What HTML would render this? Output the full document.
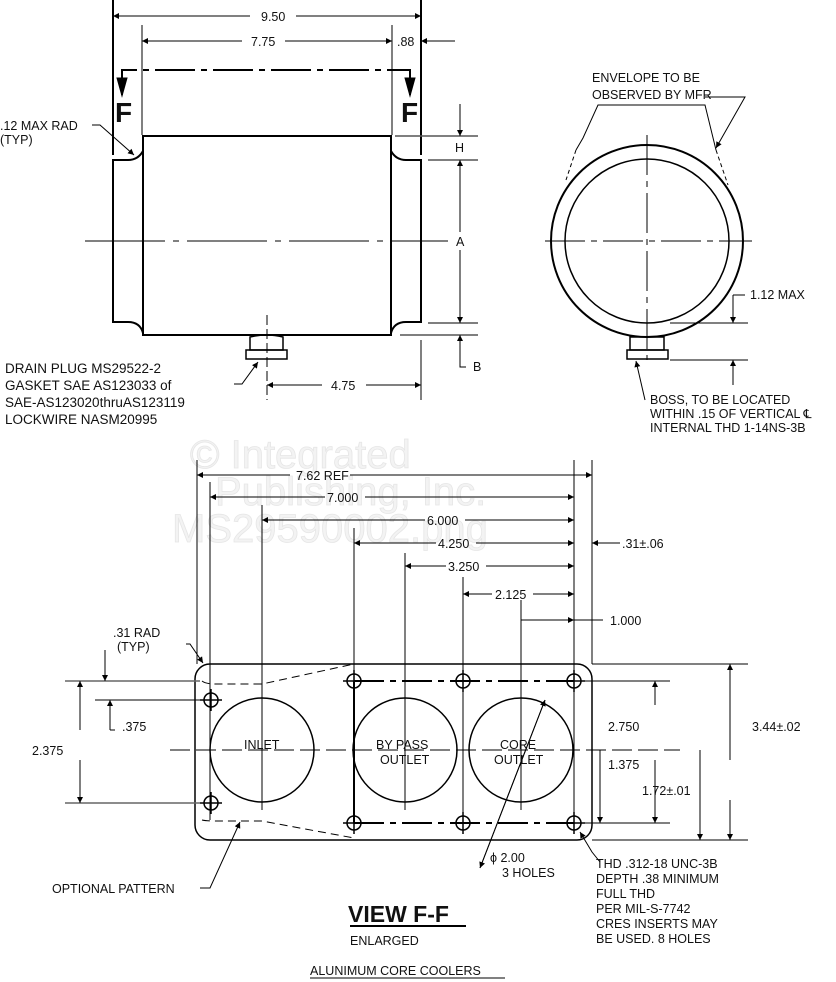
<!DOCTYPE html>
<html><head><meta charset="utf-8"><style>
html,body{margin:0;padding:0;background:#fff}
svg{display:block}
text{font-family:"Liberation Sans",sans-serif;font-size:12.5px;fill:#111}
</style></head><body>
<svg width="836" height="982" viewBox="0 0 836 982" xmlns="http://www.w3.org/2000/svg">
<defs>
<marker id="a" viewBox="0 0 10 10" refX="10" refY="5" markerWidth="12" markerHeight="6" orient="auto-start-reverse" markerUnits="userSpaceOnUse"><path d="M0,0L10,5L0,10z" fill="#000"/></marker>
<g id="h"><circle r="7"/><line x1="-11" y1="0" x2="11" y2="0"/><line x1="0" y1="-11" x2="0" y2="11"/></g>
</defs>
<!-- watermark -->
<text x="190" y="468" style="font-size:40px;fill:#f3f3f3;stroke:#e6e6e6;stroke-width:0.8">© Integrated</text>
<text x="215" y="505" style="font-size:40px;fill:#f3f3f3;stroke:#e6e6e6;stroke-width:0.8">Publishing, Inc.</text>
<text x="172" y="542" style="font-size:40px;fill:#f3f3f3;stroke:#e6e6e6;stroke-width:0.8">MS29590002.png</text>
<g stroke="#000" fill="none" stroke-width="1">
<!-- TOP LEFT VIEW -->
<line x1="113" y1="0" x2="113" y2="155" stroke-width="2"/>
<line x1="421" y1="0" x2="421" y2="155" stroke-width="2"/>
<line x1="142" y1="25" x2="142" y2="135"/>
<line x1="392" y1="25" x2="392" y2="135"/>
<line x1="113" y1="16" x2="250" y2="16" marker-start="url(#a)"/>
<line x1="296" y1="16" x2="421" y2="16" marker-end="url(#a)"/>
<line x1="142" y1="41" x2="242" y2="41" marker-start="url(#a)"/>
<line x1="285" y1="41" x2="392" y2="41" marker-end="url(#a)"/>
<line x1="455" y1="41" x2="421" y2="41" marker-end="url(#a)"/>
<path d="M122,95 V70 H410 V95" stroke-width="2" stroke-dasharray="40,6,6,6"/>
<path d="M117,78 L122,96 L127,78z M405,78 L410,96 L415,78z" fill="#000"/>
<path d="M143,136 H391 V335 H143 Z" stroke-width="2"/>
<path d="M143,151 Q138,160 128,160 H113 V322 H128 Q140,322 143,333" stroke-width="2"/>
<path d="M391,151 Q396,160 406,160 H421 V322 H406 Q394,322 391,333" stroke-width="2"/>
<line x1="85" y1="241" x2="448" y2="241" stroke-dasharray="80,8,6,8"/>
<line x1="395" y1="136" x2="478" y2="136" stroke="#555" stroke-width="1.5"/>
<line x1="428" y1="160" x2="478" y2="160" stroke="#555" stroke-width="1.5"/>
<line x1="428" y1="323" x2="478" y2="323" stroke="#555" stroke-width="1.5"/>
<line x1="400" y1="335" x2="478" y2="335" stroke="#555" stroke-width="1.5"/>
<line x1="460" y1="104" x2="460" y2="136" marker-end="url(#a)"/>
<line x1="460" y1="232" x2="460" y2="160" marker-end="url(#a)"/>
<line x1="460" y1="250" x2="460" y2="323" marker-end="url(#a)"/>
<path d="M460,367 V335" marker-end="url(#a)"/>
<path d="M460,355 V367 H466"/>
<path d="M250,337 Q267,333 283,337 V350 H250 Z" stroke-width="1.5"/>
<rect x="246" y="350" width="41" height="9" stroke-width="1.5"/>
<line x1="267" y1="315" x2="267" y2="400" stroke-dasharray="10,4"/>
<line x1="421" y1="340" x2="421" y2="400"/>
<line x1="267" y1="385" x2="322" y2="385" marker-start="url(#a)"/>
<line x1="366" y1="385" x2="421" y2="385" marker-end="url(#a)"/>
<path d="M234,384 H242 L258,362" marker-end="url(#a)"/>
<path d="M92,125 H100 L134,155" marker-end="url(#a)"/>
<!-- RIGHT VIEW -->
<circle cx="647" cy="241" r="96" stroke-width="2"/>
<circle cx="647" cy="241" r="82" stroke-width="1.5"/>
<line x1="545" y1="241" x2="752" y2="241" stroke-dasharray="40,6,6,6"/>
<line x1="647" y1="135" x2="647" y2="360" stroke-dasharray="40,6,6,6"/>
<path d="M576,150 L583,138 L598,105 L705,105 L716,150"/>
<path d="M576,150 L566,180 M716,150 L728,185" stroke-dasharray="4,3"/>
<path d="M705,97 H745 L716,148" marker-end="url(#a)"/>
<path d="M630,337 H664 V350 H630 Z" stroke-width="1.5"/>
<rect x="627" y="350" width="41" height="9" stroke-width="1.5"/>
<line x1="670" y1="323" x2="748" y2="323"/>
<line x1="670" y1="360" x2="748" y2="360"/>
<line x1="733" y1="295" x2="733" y2="323" marker-end="url(#a)"/>
<line x1="733" y1="385" x2="733" y2="360" marker-end="url(#a)"/>
<line x1="733" y1="295" x2="745" y2="295"/>
<path d="M645,400 L636,361" marker-end="url(#a)"/>
<!-- BOTTOM VIEW -->
<rect x="195" y="664" width="397" height="176" rx="15" stroke-width="1.5"/>
<line x1="197" y1="460" x2="197" y2="664"/>
<line x1="210" y1="482" x2="210" y2="820"/>
<line x1="262" y1="505" x2="262" y2="810"/>
<line x1="354" y1="528" x2="354" y2="830"/>
<line x1="405" y1="553" x2="405" y2="810"/>
<line x1="463" y1="577" x2="463" y2="830"/>
<line x1="521" y1="600" x2="521" y2="810"/>
<line x1="574" y1="460" x2="574" y2="830"/>
<line x1="592" y1="460" x2="592" y2="664"/>
<line x1="197" y1="475" x2="290" y2="475" marker-start="url(#a)"/>
<line x1="350" y1="475" x2="592" y2="475" marker-end="url(#a)"/>
<line x1="210" y1="497" x2="325" y2="497" marker-start="url(#a)"/>
<line x1="365" y1="497" x2="574" y2="497" marker-end="url(#a)"/>
<line x1="262" y1="520" x2="425" y2="520" marker-start="url(#a)"/>
<line x1="465" y1="520" x2="574" y2="520" marker-end="url(#a)"/>
<line x1="354" y1="543" x2="436" y2="543" marker-start="url(#a)"/>
<line x1="476" y1="543" x2="574" y2="543" marker-end="url(#a)"/>
<line x1="620" y1="543" x2="592" y2="543" marker-end="url(#a)"/>
<line x1="405" y1="566" x2="446" y2="566" marker-start="url(#a)"/>
<line x1="486" y1="566" x2="574" y2="566" marker-end="url(#a)"/>
<line x1="463" y1="594" x2="492" y2="594" marker-start="url(#a)"/>
<line x1="533" y1="594" x2="574" y2="594" marker-end="url(#a)"/>
<line x1="521" y1="620" x2="574" y2="620" marker-end="url(#a)"/>
<line x1="603" y1="620" x2="574" y2="620"/>
<path d="M354,681 H574 M354,823 H574" stroke-width="2" stroke-dasharray="30,6,6,6"/>
<line x1="354" y1="681" x2="354" y2="823" stroke-width="2"/>
<g stroke-width="1.5">
<circle cx="262" cy="750" r="52"/><circle cx="405" cy="750" r="52"/><circle cx="521" cy="750" r="52"/>
</g>
<line x1="170" y1="750" x2="680" y2="750" stroke-dasharray="20,6"/>
<g stroke-width="1.5">
<use href="#h" x="354" y="681"/><use href="#h" x="463" y="681"/><use href="#h" x="574" y="681"/>
<use href="#h" x="354" y="823"/><use href="#h" x="463" y="823"/><use href="#h" x="574" y="823"/>
<use href="#h" x="211" y="700"/><use href="#h" x="211" y="803"/>
</g>
<path d="M202,681 Q206,684 215,684 H262 L354,664" stroke-dasharray="8,5"/>
<path d="M202,820 Q206,821 215,821 H262 L354,838" stroke-dasharray="8,5"/>
<line x1="592" y1="664" x2="748" y2="664"/>
<line x1="582" y1="681" x2="670" y2="681"/>
<line x1="582" y1="823" x2="670" y2="823"/>
<line x1="592" y1="840" x2="748" y2="840"/>
<line x1="655" y1="705" x2="655" y2="681" marker-end="url(#a)"/>
<line x1="655" y1="760" x2="655" y2="823" marker-end="url(#a)"/>
<line x1="600" y1="750" x2="600" y2="823" marker-end="url(#a)"/>
<line x1="700" y1="750" x2="700" y2="840" marker-end="url(#a)"/>
<line x1="730" y1="760" x2="730" y2="664" marker-end="url(#a)"/>
<line x1="730" y1="800" x2="730" y2="840" marker-end="url(#a)"/>
<line x1="65" y1="681" x2="200" y2="681" stroke="#666" stroke-width="1.5"/>
<line x1="65" y1="803" x2="200" y2="803" stroke="#666" stroke-width="1.5"/>
<line x1="95" y1="700" x2="200" y2="700"/>
<line x1="80" y1="730" x2="80" y2="681" marker-end="url(#a)"/>
<line x1="80" y1="760" x2="80" y2="803" marker-end="url(#a)"/>
<line x1="105" y1="650" x2="105" y2="681" marker-end="url(#a)"/>
<line x1="110" y1="730" x2="110" y2="700" marker-end="url(#a)"/>
<path d="M110,730 H115"/>
<path d="M186,644 H190 L203,663" marker-end="url(#a)"/>
<path d="M200,888 H210 L240,822" marker-end="url(#a)"/>
<path d="M480,868 L545,700" marker-end="url(#a)"/>
<path d="M545,700 L480,868" marker-end="url(#a)"/>
<path d="M600,862 L592,852 L580,832" marker-end="url(#a)"/>
<line x1="350" y1="926" x2="466" y2="926" stroke-width="2"/>
<line x1="310" y1="978" x2="505" y2="978"/>
</g>
<text x="115" y="122" style="font-size:28px;font-weight:bold">F</text>
<text x="401" y="122" style="font-size:28px;font-weight:bold">F</text>
<text x="261" y="21">9.50</text>
<text x="251" y="46">7.75</text>
<text x="397" y="46">.88</text>
<text x="0" y="130">.12 MAX RAD</text>
<text x="0" y="144">(TYP)</text>
<text x="455" y="152">H</text>
<text x="456" y="246">A</text>
<text x="473" y="371">B</text>
<text x="331" y="390">4.75</text>
<text x="5" y="373" style="font-size:13.5px">DRAIN PLUG MS29522-2</text>
<text x="5" y="390" style="font-size:13.5px">GASKET SAE AS123033 of</text>
<text x="5" y="407" style="font-size:13.5px">SAE-AS123020thruAS123119</text>
<text x="5" y="424" style="font-size:13.5px">LOCKWIRE NASM20995</text>
<text x="592" y="82">ENVELOPE TO BE</text>
<text x="592" y="99">OBSERVED BY MFR</text>
<text x="750" y="299">1.12 MAX</text>
<text x="650" y="404">BOSS, TO BE LOCATED</text>
<text x="650" y="418">WITHIN .15 OF VERTICAL ℄</text>
<text x="650" y="432">INTERNAL THD 1-14NS-3B</text>
<text x="296" y="480">7.62 REF</text>
<text x="327" y="502">7.000</text>
<text x="427" y="525">6.000</text>
<text x="438" y="548">4.250</text>
<text x="448" y="571">3.250</text>
<text x="495" y="599">2.125</text>
<text x="610" y="625">1.000</text>
<text x="622" y="548">.31±.06</text>
<text x="113" y="637">.31 RAD</text>
<text x="117" y="651">(TYP)</text>
<text x="122" y="731">.375</text>
<text x="32" y="755">2.375</text>
<text x="244" y="749">INLET</text>
<text x="376" y="749">BY PASS</text>
<text x="380" y="764">OUTLET</text>
<text x="500" y="749">CORE</text>
<text x="494" y="764">OUTLET</text>
<text x="608" y="731">2.750</text>
<text x="752" y="731">3.44±.02</text>
<text x="608" y="769">1.375</text>
<text x="642" y="795">1.72±.01</text>
<text x="52" y="893">OPTIONAL PATTERN</text>
<text x="490" y="862">ϕ 2.00</text>
<text x="502" y="877">3 HOLES</text>
<text x="596" y="868">THD .312-18 UNC-3B</text>
<text x="596" y="883">DEPTH .38 MINIMUM</text>
<text x="596" y="898">FULL THD</text>
<text x="596" y="913">PER MIL-S-7742</text>
<text x="596" y="928">CRES INSERTS MAY</text>
<text x="596" y="943">BE USED. 8 HOLES</text>
<text x="348" y="922" style="font-size:23px;font-weight:bold">VIEW F-F</text>
<text x="350" y="945">ENLARGED</text>
<text x="310" y="975">ALUNIMUM CORE COOLERS</text>
</svg>
</body></html>
